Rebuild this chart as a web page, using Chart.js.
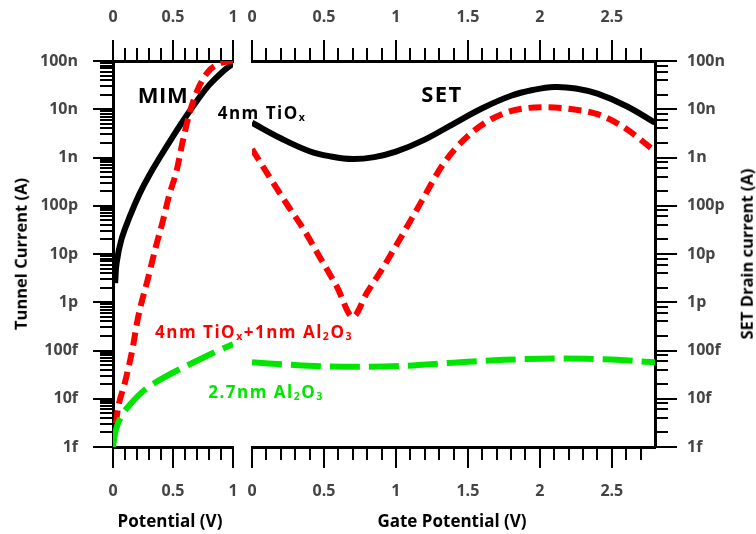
<!DOCTYPE html>
<html>
<head>
<meta charset="utf-8">
<script src="https://cdn.jsdelivr.net/npm/chart.js@4.4.0/dist/chart.umd.min.js"></script>
<style>
  body { margin: 0; background: #fff; }
  #wrap { position: relative; width: 756px; height: 534px; font-family: "Open Sans", sans-serif; font-weight: bold; }
  canvas { position: absolute; left: 0; top: 0; }
  .lbl { position: absolute; white-space: nowrap; line-height: 1; transform: translate(-50%, -50%); }
  .lbl sub { font-size: 62%; vertical-align: -0.2em; line-height: 0; }
  .vt { transform: translate(-50%, -50%) rotate(-90deg); }
</style>
</head>
<body>
<div id="wrap">
  <canvas id="mim" width="756" height="534"></canvas>
  <canvas id="set" width="756" height="534"></canvas>

  <div class="lbl" style="left:163px;top:94px;font-size:22px;letter-spacing:0.5px;color:#000">MIM</div>
  <div class="lbl" style="left:442px;top:93px;font-size:22px;letter-spacing:1.5px;color:#000">SET</div>
  <div class="lbl" style="left:262px;top:112px;font-size:17px;letter-spacing:1.5px;color:#000">4nm TiO<sub>x</sub></div>
  <div class="lbl" style="left:254px;top:331px;font-size:17px;letter-spacing:1.5px;color:#ff0000">4nm TiO<sub>x</sub>+1nm Al<sub>2</sub>O<sub>3</sub></div>
  <div class="lbl" style="left:266px;top:391px;font-size:17px;letter-spacing:1.5px;color:#00e600">2.7nm Al<sub>2</sub>O<sub>3</sub></div>

  <div class="lbl vt" style="left:21px;top:254px;font-size:16.5px;color:#000">Tunnel Current (A)</div>
  <div class="lbl vt" style="left:747px;top:254px;font-size:16.5px;color:#000">SET Drain current (A)</div>
  <div class="lbl" style="left:170px;top:520px;font-size:17px;color:#000">Potential (V)</div>
  <div class="lbl" style="left:452px;top:520px;font-size:17px;color:#000">Gate Potential (V)</div>
</div>

<script>
// current axis (both panels)
const decades = [1e-15, 1e-14, 1e-13, 1e-12, 1e-11, 1e-10, 1e-9, 1e-8, 1e-7];
const decadeLabels = ['1f', '10f', '100f', '1p', '10p', '100p', '1n', '10n', '100n'];

// MIM panel: tunnel current vs potential (V)
const mimTicks = [0, 0.5, 1];
const mimTiOxV = [0.018, 0.03, 0.07, 0.14, 0.22, 0.3, 0.4, 0.5, 0.6, 0.7, 0.8, 0.9, 1.0];
const mimTiOxI = [2.5e-12, 6.5e-12, 2e-11, 6e-11, 1.74e-10, 4.2e-10, 1.1e-9, 2.75e-9, 6.6e-9, 1.5e-8, 3.16e-8, 5.6e-8, 8.9e-8];
const mimStackV = [0, 0.015, 0.04, 0.1, 0.16, 0.21, 0.29, 0.36, 0.41, 0.47, 0.53, 0.58, 0.64, 0.71, 0.79, 0.87, 0.94, 1.0];
const mimStackI = [1.2e-15, 2e-15, 6e-15, 2.2e-14, 1e-13, 5e-13, 3e-12, 1.5e-11, 4.3e-11, 1.7e-10, 5.3e-10, 2.1e-9, 8.7e-9, 2.7e-8, 5.9e-8, 8.5e-8, 9.6e-8, 1e-7];
const mimAlV = [0, 0.015, 0.04, 0.08, 0.14, 0.26, 0.43, 0.66, 0.85, 1.0];
const mimAlI = [1e-15, 1.8e-15, 3e-15, 4.8e-15, 7.5e-15, 1.5e-14, 2.8e-14, 5.5e-14, 9.3e-14, 1.35e-13];

// SET panel: drain current vs gate potential (V)
const setTicks = [0, 0.5, 1, 1.5, 2, 2.5];
const setTiOxV = [0, 0.2, 0.4, 0.55, 0.7, 0.85, 1.0, 1.2, 1.4, 1.6, 1.8, 1.95, 2.1, 2.25, 2.4, 2.6, 2.8];
const setTiOxI = [5.25e-9, 2.5e-9, 1.35e-9, 1.05e-9, 9.3e-10, 1.02e-9, 1.32e-9, 2.35e-9, 5e-9, 1.05e-8, 1.9e-8, 2.5e-8, 2.9e-8, 2.7e-8, 2.1e-8, 1.17e-8, 5.25e-9];
const setStackV = [0, 0.12, 0.24, 0.36, 0.47, 0.59, 0.7, 0.8, 0.91, 1.03, 1.17, 1.33, 1.5, 1.7, 1.9, 2.05, 2.2, 2.4, 2.58, 2.8];
const setStackI = [1.5e-9, 4e-10, 1.1e-10, 3.2e-11, 8.7e-12, 2.1e-12, 5e-13, 1.6e-12, 5.2e-12, 2.1e-11, 1.12e-10, 7.4e-10, 2.8e-9, 7.1e-9, 1.05e-8, 1.1e-8, 1.02e-8, 7.9e-9, 4.3e-9, 1.35e-9];
const setAlV = [0, 0.35, 0.7, 1.05, 1.4, 1.75, 2.1, 2.45, 2.8];
const setAlI = [5.7e-14, 4.9e-14, 4.6e-14, 4.8e-14, 5.6e-14, 6.4e-14, 6.8e-14, 6.6e-14, 5.7e-14];

const tickFont = { family: '"Open Sans", sans-serif', size: 16, weight: 'bold' };

function pts(xs, ys) {
    return xs.map((x, i) => ({ x: x, y: ys[i] }));
}

// minor tick positions: every 0.1 V
function tenths(max) {
    let out = [];
    for (let i = 0; i <= Math.round(max * 10); i++) out.push(i / 10);
    return out;
}

// minor tick positions inside each decade
function minorDecades(mults) {
    let out = [];
    for (let d = 0; d < decades.length - 1; d++) {
        mults.forEach(m => out.push(m * decades[d]));
    }
    return out;
}

// minor axes get weight 0 and zero size so they sit on the same edge as the major ones
function xAxis(position, max, ticks, minor, size) {
    return {
        type: 'linear', position: position, min: 0, max: max,
        weight: minor ? 0 : 1,
        grid: { drawOnChartArea: false, drawTicks: true, tickLength: minor ? 13 : 21, lineWidth: 2, color: '#000' },
        border: { display: !minor, color: '#000', width: 3 },
        ticks: {
            display: !minor, padding: position === 'top' ? 13 : 14, color: '#444', font: tickFont,
            maxRotation: 0, autoSkip: false, callback: v => minor ? '' : String(v)
        },
        afterBuildTicks: s => { s.ticks = ticks.map(v => ({ value: v })); },
        afterFit: s => { s.height = minor ? 0 : size; }
    };
}

function yAxis(position, ticks, minor, tl, pad, size) {
    return {
        type: 'logarithmic', position: position, min: 1e-15, max: 1e-7,
        weight: minor ? 0 : 1,
        grid: { drawOnChartArea: false, drawTicks: true, tickLength: tl, lineWidth: 2, color: '#000' },
        border: { display: !minor, color: '#000', width: 3 },
        ticks: {
            display: !minor, padding: pad, color: '#444', font: tickFont,
            autoSkip: false, callback: (v, i) => minor ? '' : decadeLabels[i]
        },
        afterBuildTicks: s => { s.ticks = ticks.map(v => ({ value: v })); },
        afterFit: s => { s.width = minor ? 0 : size; }
    };
}

function blackLine(data) {
    return { data: data, borderColor: '#000', borderWidth: 6, pointRadius: 0, fill: false, tension: 0.4 };
}
function redLine(data) {
    return { data: data, borderColor: '#ff0000', borderWidth: 6, borderDash: [13, 7], pointRadius: 0, fill: false, cubicInterpolationMode: 'monotone' };
}
function greenLine(data) {
    return { data: data, borderColor: '#00e600', borderWidth: 6, borderDash: [30, 9], pointRadius: 0, fill: false, cubicInterpolationMode: 'monotone' };
}

const common = {
    responsive: false,
    animation: false,
    plugins: { legend: { display: false }, tooltip: { enabled: false } }
};

const mimChart = new Chart(document.getElementById('mim'), {
    type: 'line',
    data: {
        datasets: [
            greenLine(pts(mimAlV, mimAlI)),
            redLine(pts(mimStackV, mimStackI)),
            blackLine(pts(mimTiOxV, mimTiOxI))
        ]
    },
    options: Object.assign({}, common, {
        layout: { padding: { left: 0, right: 523, top: 0, bottom: 0 } },
        scales: {
            x: xAxis('bottom', 1, mimTicks, false, 87),
            xm: xAxis('bottom', 1, tenths(1), true),
            xt: xAxis('top', 1, mimTicks, false, 61),
            xtm: xAxis('top', 1, tenths(1), true),
            y: yAxis('left', decades, false, 20, 15, 113),
            ym: yAxis('left', minorDecades([2, 3, 4, 5, 6, 7, 8, 9]), true, 13, 0)
        }
    })
});

const setChart = new Chart(document.getElementById('set'), {
    type: 'line',
    data: {
        datasets: [
            greenLine(pts(setAlV, setAlI)),
            redLine(pts(setStackV, setStackI)),
            blackLine(pts(setTiOxV, setTiOxI))
        ]
    },
    options: Object.assign({}, common, {
        layout: { padding: { left: 252, right: 0, top: 0, bottom: 0 } },
        scales: {
            x: xAxis('bottom', 2.8, setTicks, false, 87),
            xm: xAxis('bottom', 2.8, tenths(2.7), true),
            xt: xAxis('top', 2.8, setTicks, false, 61),
            xtm: xAxis('top', 2.8, tenths(2.7), true),
            y: yAxis('right', decades, false, 22, 10, 101),
            ym: yAxis('right', minorDecades([2, 4, 6, 8]), true, 13, 0)
        }
    })
});
</script>
</body>
</html>
